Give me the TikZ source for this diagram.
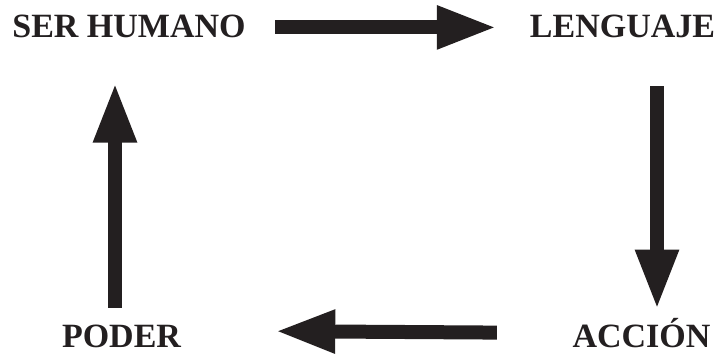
\documentclass[tikz,border=0pt]{standalone}
\usepackage{fontspec}
\setmainfont{Liberation Serif}
\usepackage{tikz}
\usetikzlibrary{arrows.meta}
\definecolor{tinta}{RGB}{35,31,32}

\tikzset{
	rotulo/.style={font=\fontsize{34}{40}\selectfont\bfseries, text=tinta, inner sep=0pt, anchor=base},
	flecha/.style={draw=tinta, fill=tinta, line width=14pt, -{Triangle[width=40pt,length=60pt]}}
}

\begin{document}
\begin{tikzpicture}[x=1pt,y=-1pt]
	\useasboundingbox (0,0) rectangle (719,354);
	\node[rotulo] (ser) at (129,37) {SER HUMANO};
	\node[rotulo] (len) at (622.5,37) {LENGUAJE};
	\node[rotulo] (acc) at (641.5,347) {ACCIÓN};
	\node[rotulo] (pod) at (121.5,347) {PODER};
	\draw[flecha] ([xshift=29.4pt,yshift=-1.5pt]ser.east) -- ([xshift=-32.9pt,yshift=-1.5pt]len.west);
	\draw[flecha] ([xshift=34.5pt,yshift=-48.5pt]len.south) -- ([xshift=15.5pt,yshift=8pt]acc.north);
	\draw[flecha] ([xshift=-75.5pt]acc.west) -- ([xshift=94pt,yshift=4.75pt]pod.east);
	\draw[flecha] ([xshift=-6.5pt,yshift=16.5pt]pod.north) -- ([xshift=-14pt,yshift=-45pt]ser.south);
\end{tikzpicture}
\end{document}
